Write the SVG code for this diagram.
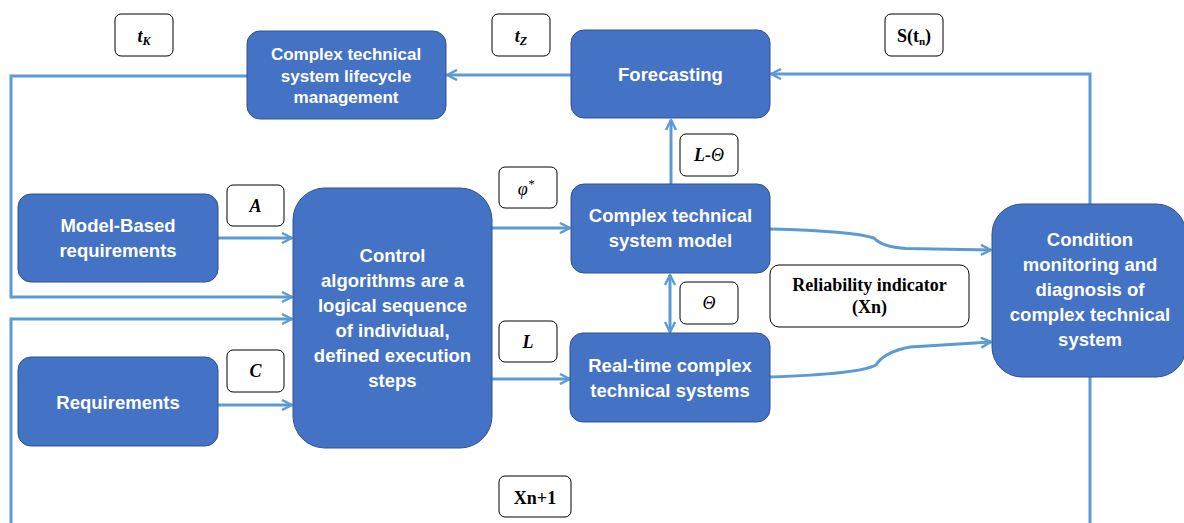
<svg xmlns="http://www.w3.org/2000/svg" width="1184" height="523" viewBox="0 0 1184 523">
  <style>
    .node { fill: #4472C4; stroke: #2F528F; stroke-width: 1; }
    .ntext { font-family: "Liberation Sans", Arial, sans-serif; font-weight: bold; font-size: 18.5px; fill: #FFFFFF; text-anchor: middle; }
    .small { font-size: 17px; }
    .lbl { fill: #FFFFFF; stroke: #000000; stroke-width: 1; }
    .ltext { font-family: "Liberation Serif", "Times New Roman", serif; font-size: 18px; fill: #000000; text-anchor: middle; }
    .bi { font-weight: bold; font-style: italic; }
    .it { font-style: italic; }
    .b { font-weight: bold; }
    .wire { fill: none; stroke: #5B9BD5; stroke-width: 3; }
  </style>
  <defs>
    <marker id="arrow" viewBox="0 0 12 12" refX="11" refY="6" markerWidth="12" markerHeight="12" markerUnits="userSpaceOnUse" orient="auto-start-reverse">
      <path d="M1,1 L11,6 L1,11" fill="none" stroke="#5B9BD5" stroke-width="2.4" stroke-linejoin="miter"/>
    </marker>
  </defs>

  <rect width="1184" height="523" fill="#FFFFFF"/>

  <!-- connectors -->
  <g id="connectors">
    <path class="wire" d="M571,75 H447" marker-end="url(#arrow)"/>
    <path class="wire" d="M247,76 H11 V297 H292" marker-end="url(#arrow)"/>
    <path class="wire" d="M11,523 V319 H292" marker-end="url(#arrow)"/>
    <path class="wire" d="M1090,204 V74 H771" marker-end="url(#arrow)"/>
    <path class="wire" d="M1090,377 V523"/>
    <path class="wire" d="M218,238 H292" marker-end="url(#arrow)"/>
    <path class="wire" d="M218,405 H292" marker-end="url(#arrow)"/>
    <path class="wire" d="M492,228 H570" marker-end="url(#arrow)"/>
    <path class="wire" d="M492,379 H570" marker-end="url(#arrow)"/>
    <path class="wire" d="M671,184 V120" marker-end="url(#arrow)"/>
    <path class="wire" d="M670,275 V332" marker-start="url(#arrow)" marker-end="url(#arrow)"/>
    <path class="wire" d="M770,229 Q852,231 874,238 Q882,247 906,248.5 L991,250" marker-end="url(#arrow)"/>
    <path class="wire" d="M770,377 Q860,374 876,365 Q884,352 910,347 L991,342" marker-end="url(#arrow)"/>
  </g>

  <!-- process nodes -->
  <g id="lifecycle">
    <rect class="node" x="247" y="31" width="199" height="88" rx="13"/>
    <text class="ntext small" x="346" y="60">Complex technical</text>
    <text class="ntext small" x="346" y="82">system lifecycle</text>
    <text class="ntext small" x="346" y="103">management</text>
  </g>
  <g id="forecasting">
    <rect class="node" x="571" y="30" width="199" height="88" rx="13"/>
    <text class="ntext" x="670.5" y="81">Forecasting</text>
  </g>
  <g id="model-based">
    <rect class="node" x="18" y="194" width="200" height="88" rx="13"/>
    <text class="ntext" x="118" y="232">Model-Based</text>
    <text class="ntext" x="118" y="257">requirements</text>
  </g>
  <g id="requirements">
    <rect class="node" x="18" y="357" width="200" height="89" rx="13"/>
    <text class="ntext" x="118" y="409">Requirements</text>
  </g>
  <g id="control">
    <rect class="node" x="293" y="188" width="199" height="260" rx="32"/>
    <text class="ntext" x="392.5" y="262">Control</text>
    <text class="ntext" x="392.5" y="287">algorithms are a</text>
    <text class="ntext" x="392.5" y="312">logical sequence</text>
    <text class="ntext" x="392.5" y="337">of individual,</text>
    <text class="ntext" x="392.5" y="362">defined execution</text>
    <text class="ntext" x="392.5" y="387">steps</text>
  </g>
  <g id="system-model">
    <rect class="node" x="571" y="184" width="199" height="89" rx="13"/>
    <text class="ntext" x="670.5" y="222">Complex technical</text>
    <text class="ntext" x="670.5" y="247">system model</text>
  </g>
  <g id="real-time">
    <rect class="node" x="570" y="333" width="200" height="89" rx="13"/>
    <text class="ntext" x="670" y="372">Real-time complex</text>
    <text class="ntext" x="670" y="397">technical systems</text>
  </g>
  <g id="condition">
    <rect class="node" x="992" y="204" width="194" height="173" rx="30"/>
    <text class="ntext" x="1090" y="246">Condition</text>
    <text class="ntext" x="1090" y="271">monitoring and</text>
    <text class="ntext" x="1090" y="296">diagnosis of</text>
    <text class="ntext" x="1090" y="321">complex technical</text>
    <text class="ntext" x="1090" y="346">system</text>
  </g>

  <!-- signal labels -->
  <g id="label-tk">
    <rect class="lbl" x="115" y="14" width="58" height="42" rx="6"/>
    <text class="ltext bi" x="144" y="42">t<tspan font-size="12" dy="3">K</tspan></text>
  </g>
  <g id="label-tz">
    <rect class="lbl" x="492" y="14" width="58" height="42" rx="6"/>
    <text class="ltext bi" x="521" y="42">t<tspan font-size="12" dy="3">Z</tspan></text>
  </g>
  <g id="label-stn">
    <rect class="lbl" x="885" y="14" width="58" height="42" rx="6"/>
    <text class="ltext b" x="914" y="42">S(t<tspan font-size="11" dy="3">n</tspan><tspan dy="-3">)</tspan></text>
  </g>
  <g id="label-a">
    <rect class="lbl" x="227" y="185" width="57" height="41" rx="6"/>
    <text class="ltext bi" x="255.5" y="212">A</text>
  </g>
  <g id="label-c">
    <rect class="lbl" x="227" y="350" width="57" height="42" rx="6"/>
    <text class="ltext bi" x="255.5" y="377">C</text>
  </g>
  <g id="label-phi">
    <rect class="lbl" x="499" y="167" width="58" height="41" rx="6"/>
    <text class="ltext it" x="526" y="195">φ<tspan font-size="13" dy="-7">*</tspan></text>
  </g>
  <g id="label-l">
    <rect class="lbl" x="499" y="321" width="58" height="41" rx="6"/>
    <text class="ltext bi" x="528" y="348">L</text>
  </g>
  <g id="label-l-theta">
    <rect class="lbl" x="680" y="134" width="58" height="42" rx="6"/>
    <text class="ltext bi" x="709" y="161">L-<tspan font-weight="normal">Θ</tspan></text>
  </g>
  <g id="label-theta">
    <rect class="lbl" x="680" y="282" width="58" height="42" rx="6"/>
    <text class="ltext it" x="709" y="309">Θ</text>
  </g>
  <g id="label-reliability">
    <rect class="lbl" x="770" y="265" width="199" height="62" rx="9"/>
    <text class="ltext b" x="869.5" y="291" font-size="16">Reliability indicator</text>
    <text class="ltext b" x="869.5" y="313" font-size="16">(Xn)</text>
  </g>
  <g id="label-xn1">
    <rect class="lbl" x="499" y="476" width="72" height="41" rx="6"/>
    <text class="ltext b" x="535" y="504" font-size="16">Xn+1</text>
  </g>
</svg>
